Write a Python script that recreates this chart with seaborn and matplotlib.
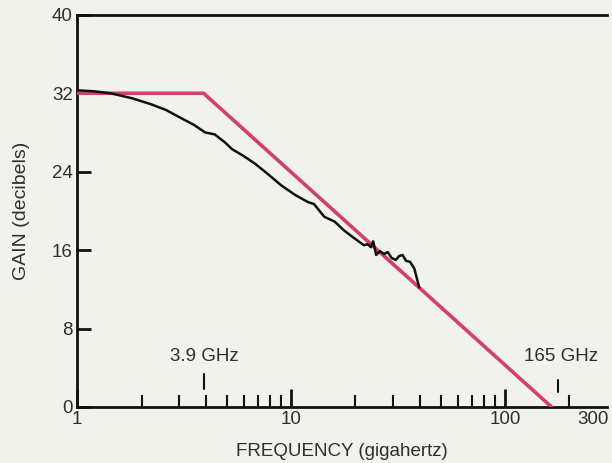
import numpy as np
import pandas as pd
import matplotlib
matplotlib.use("Agg")
import matplotlib.pyplot as plt
import matplotlib.transforms as mtransforms
import seaborn as sns
from matplotlib.ticker import FixedLocator, NullFormatter

freq_measured = [1.0, 1.2, 1.43, 1.8, 2.2, 2.6, 3.04, 3.5, 3.97, 4.4, 4.9, 5.3, 6.0, 6.8,
                 7.75, 9.0, 10.5, 12.0, 12.8, 14.3, 16.0, 17.7, 19.5, 21.9, 22.8, 23.6,
                 24.2, 25.0, 26.0, 27.2, 28.3, 29.5, 30.9, 32.0, 33.2, 34.5, 36.0, 37.7, 39.7]
gain_measured = [32.3, 32.2, 32.0, 31.5, 30.9, 30.3, 29.5, 28.8, 28.0, 27.8, 27.0, 26.3, 25.6, 24.8,
                 23.8, 22.6, 21.6, 20.9, 20.7, 19.4, 18.9, 18.0, 17.3, 16.5, 16.6, 16.3,
                 16.9, 15.5, 15.9, 15.6, 15.8, 15.2, 15.0, 15.4, 15.5, 14.9, 14.8, 14.1, 12.2]

# asymptotic (break-point) approximation
freq_asym = [1.0, 3.9, 165.0]
gain_asym = [32.0, 32.0, 0.0]

x_ticks = [1, 10, 100, 300]
x_minor = [2, 3, 4, 5, 6, 7, 8, 9, 20, 30, 40, 50, 60, 70, 80, 90, 200]
y_ticks = [0, 8, 16, 24, 32, 40]

bg = "#f2f2ec"
pink = "#d3406f"
ink = "#111111"
txt = "#2e2e2e"
fs = 13.5

sns.set_style("white")
plt.rcParams["font.family"] = ["Liberation Sans", "DejaVu Sans"]

fig = plt.figure(figsize=(6.12, 4.63), dpi=100, facecolor=bg)
ax = fig.add_axes([0.126, 0.121, 0.866, 0.847])
ax.set_facecolor(bg)

measured = pd.DataFrame({"freq": freq_measured, "gain": gain_measured})
asym = pd.DataFrame({"freq": freq_asym, "gain": gain_asym})

sns.lineplot(data=asym, x="freq", y="gain", color=pink, linewidth=2.6, ax=ax, zorder=3)
sns.lineplot(data=measured, x="freq", y="gain", color=ink, linewidth=1.8, ax=ax, zorder=4)

ax.set_xscale("log")
ax.set_xlim(1, 300)
ax.set_ylim(0, 40)

ax.xaxis.set_major_locator(FixedLocator(x_ticks))
ax.set_xticklabels([str(t) for t in x_ticks])
ax.xaxis.set_minor_locator(FixedLocator(x_minor))
ax.xaxis.set_minor_formatter(NullFormatter())
ax.set_yticks(y_ticks)
ax.set_yticklabels([str(t) for t in y_ticks])

ax.tick_params(axis="x", which="both", bottom=True, top=False)
ax.tick_params(axis="y", which="both", left=True, right=False)
ax.tick_params(axis="x", which="major", direction="in", length=13, width=2,
               labelsize=fs, pad=3, color=ink, labelcolor=txt)
ax.tick_params(axis="x", which="minor", direction="in", length=9, width=1.5, color=ink)
ax.tick_params(axis="y", which="major", direction="in", length=10, width=2,
               labelsize=fs, pad=3, color=ink, labelcolor=txt)

# no tick mark at the right end, and keep the "300" label inside the picture
ax.xaxis.get_major_ticks()[-1].tick1line.set_visible(False)
shift = mtransforms.ScaledTranslation(-14 / 100, 0, fig.dpi_scale_trans)
last = ax.get_xticklabels()[-1]
last.set_transform(last.get_transform() + shift)

for side in ["left", "bottom", "top"]:
    ax.spines[side].set_visible(True)
    ax.spines[side].set_color(ink)
    ax.spines[side].set_linewidth(2)
ax.spines["right"].set_visible(False)

ax.set_xlabel("FREQUENCY (gigahertz)", fontsize=fs, color=txt, labelpad=11)
ax.set_ylabel("GAIN (decibels)", fontsize=fs + 0.5, color=txt, labelpad=16)

# break-point markers
ax.plot([3.93, 3.93], [1.8, 3.4], color=ink, linewidth=1.5)
ax.text(3.93, 4.3, "3.9 GHz", ha="center", va="bottom", fontsize=fs, color=txt)
ax.plot([177, 177], [1.5, 2.8], color=ink, linewidth=1.5)
ax.text(182, 4.3, "165 GHz", ha="center", va="bottom", fontsize=fs, color=txt)

fig.savefig("out.png", dpi=100, facecolor=bg)
